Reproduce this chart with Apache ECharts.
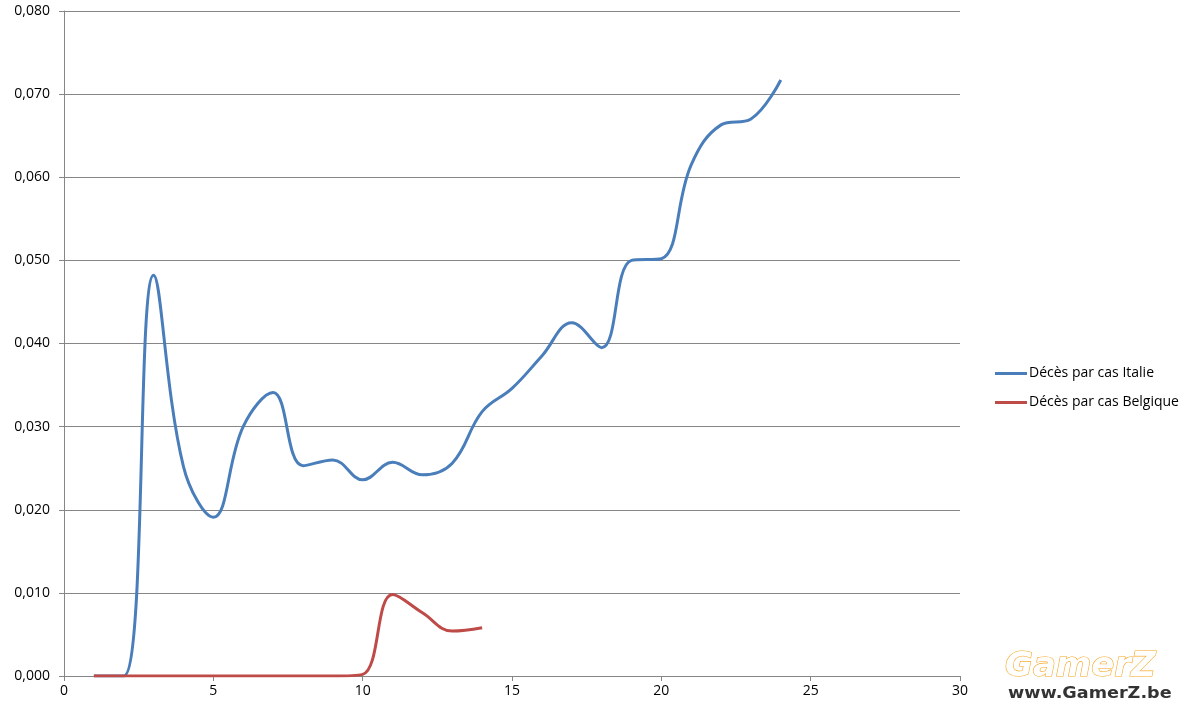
<!DOCTYPE html>
<html>
<head>
<meta charset="utf-8">
<script src="https://cdn.jsdelivr.net/npm/echarts@6/dist/echarts.min.js"></script>
<style>html,body{margin:0;padding:0;background:#fff;}#c{width:1191px;height:711px;}</style>
</head>
<body>
<div id="c"></div>
<script>
const daysItalie = [1,2,3,4,5,6,7,8,9,10,11,12,13,14,15,16,17,18,19,20,21,22,23,24];
const valuesItalie = [0.000,0.000,0.0482,0.0252,0.0191,0.0300,0.0341,0.0253,0.0260,0.0236,0.0257,0.0242,0.0256,0.0318,0.0346,0.0385,0.0425,0.0395,0.0500,0.0502,0.0615,0.0663,0.0670,0.0717];
const daysBelgique = [1,2,3,4,5,6,7,8,9,10,11,12,13,14];
const valuesBelgique = [0,0,0,0,0,0,0,0,0,0.0002,0.0098,0.0076,0.0054,0.0058];
const seriesNames = ['Décès par cas Italie','Décès par cas Belgique'];
const xTicks = {min:0,max:30,interval:5};
const yTicks = {min:0,max:0.08,interval:0.01};

const font = 'Open Sans, Noto Sans, sans-serif';
const chart = echarts.init(document.getElementById('c'));
chart.setOption({
  animation:false,
  backgroundColor:'#ffffff',
  grid:{left:64,right:231,top:11,bottom:35,containLabel:false},
  xAxis:{type:'value',min:xTicks.min,max:xTicks.max,interval:xTicks.interval,
    axisLine:{show:true,lineStyle:{color:'#868686',width:1}},
    axisTick:{show:true,length:5,lineStyle:{color:'#868686'}},
    axisLabel:{color:'#000',fontSize:14,fontFamily:font,margin:8},
    splitLine:{show:false}},
  yAxis:{type:'value',min:yTicks.min,max:yTicks.max,interval:yTicks.interval,
    axisLine:{show:true,lineStyle:{color:'#868686',width:1}},
    axisTick:{show:true,length:5,lineStyle:{color:'#868686'}},
    axisLabel:{color:'#000',fontSize:14,fontFamily:font,margin:14,
      formatter:v=>v.toFixed(3).replace('.',',')},
    splitLine:{show:true,lineStyle:{color:'#868686',width:1}}},
  legend:{orient:'vertical',left:990,top:361,itemGap:14,itemWidth:32,itemHeight:3,icon:'rect',
    textStyle:{fontSize:14,fontFamily:font,color:'#000',lineHeight:15,padding:[0,0,0,-3]},
    data:seriesNames},
  series:[
    {name:seriesNames[0],type:'line',smooth:0.4,symbol:'none',
      lineStyle:{color:'#4a7ebb',width:3},itemStyle:{color:'#4a7ebb'},
      data:daysItalie.map((d,i)=>[d,valuesItalie[i]])},
    {name:seriesNames[1],type:'line',smooth:0.4,symbol:'none',
      lineStyle:{color:'#be4b48',width:3},itemStyle:{color:'#be4b48'},
      data:daysBelgique.map((d,i)=>[d,valuesBelgique[i]])}
  ],
  graphic:[
    {type:'text',x:1005,y:650,style:{text:'GamerZ',font:'italic bold 34px Verdana, DejaVu Sans, sans-serif',fill:'#fff',stroke:'#f5a623',lineWidth:1.2}},
    {type:'text',x:1008,y:686,scaleX:1.1,style:{text:'www.GamerZ.be',font:'bold 16px DejaVu Sans, sans-serif',fill:'#333'}}
  ]
});
</script>
</body>
</html>
